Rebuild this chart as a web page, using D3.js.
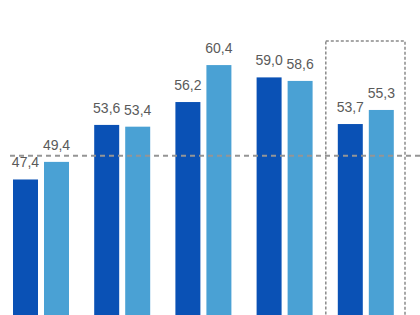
<!DOCTYPE html>
<html lang="en">
<head>
  <meta charset="UTF-8">
  <title>Bar chart</title>
  <script src="https://d3js.org/d3.v7.min.js"></script>
  <style>
    html, body { margin: 0; padding: 0; background: #fff; }
    .label {
      font-family: "Liberation Sans", Arial, sans-serif;
      font-size: 14px;
      fill: #5a5a5a;
      text-anchor: middle;
    }
  </style>
</head>
<body>
  <div id="chart"></div>
  <script>
    const width = 420;
    const height = 315;

    // Data
    const groups = ["g1", "g2", "g3", "g4", "g5"];
    const series = ["dark", "light"];
    const darkValues = [47.4, 53.6, 56.2, 59.0, 53.7];
    const lightValues = [49.4, 53.4, 60.4, 58.6, 55.3];
    const labels = [["47,4", "53,6", "56,2", "59,0", "53,7"],
                    ["49,4", "53,4", "60,4", "58,6", "55,3"]];
    const average = 50.1;
    const highlighted = "g5";

    const colors = { dark: "#0a51b5", light: "#4aa1d4" };

    const svg = d3.select("#chart")
      .append("svg")
      .attr("width", width)
      .attr("height", height);

    const x0 = d3.scaleBand().domain(groups).range([0, 406]).padding(0);
    const x1 = d3.scaleBand().domain(series).range([13, 69]).paddingInner(0.194).paddingOuter(0);
    const y = d3.scaleLinear().domain([32, 62]).range([315, 51]);

    const rows = groups.map((g, i) => ({
      group: g,
      bars: [
        { key: "dark", value: darkValues[i], label: labels[0][i] },
        { key: "light", value: lightValues[i], label: labels[1][i] }
      ]
    }));

    // dotted box round the last group
    svg.append("rect")
      .attr("x", x0(highlighted) + 1)
      .attr("y", 41)
      .attr("width", x0.bandwidth() - 2)
      .attr("height", height)
      .attr("fill", "none")
      .attr("stroke", "#8a8a8a")
      .attr("stroke-width", 1.5)
      .attr("stroke-dasharray", "3,2");

    const g = svg.selectAll(".group")
      .data(rows)
      .enter()
      .append("g")
      .attr("transform", d => `translate(${x0(d.group)},0)`);

    g.selectAll("rect")
      .data(d => d.bars)
      .enter()
      .append("rect")
      .attr("x", d => x1(d.key))
      .attr("y", d => y(d.value))
      .attr("width", x1.bandwidth())
      .attr("height", d => height - y(d.value))
      .attr("fill", d => colors[d.key]);

    // average line
    svg.append("line")
      .attr("x1", 10)
      .attr("x2", width)
      .attr("y1", y(average))
      .attr("y2", y(average))
      .attr("stroke", "#959595")
      .attr("stroke-width", 2)
      .attr("stroke-dasharray", "5,4");

    g.selectAll("text")
      .data(d => d.bars)
      .enter()
      .append("text")
      .attr("class", "label")
      .attr("x", d => x1(d.key) + x1.bandwidth() / 2)
      .attr("y", d => y(d.value) - 12)
      .text(d => d.label);
  </script>
</body>
</html>
